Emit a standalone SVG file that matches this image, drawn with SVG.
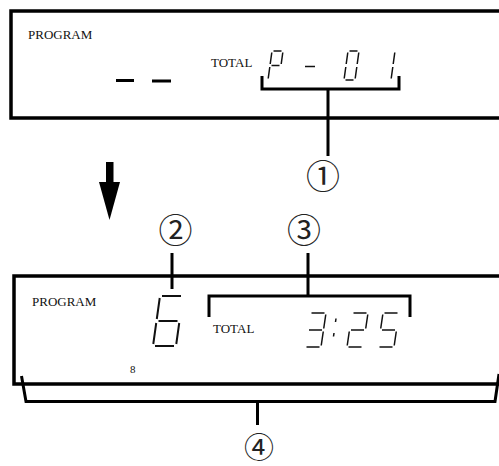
<svg xmlns="http://www.w3.org/2000/svg" width="499" height="466" viewBox="0 0 499 466">
<style>
.box{fill:#fff;stroke:#000;stroke-width:3.5}
.lbl{font-family:"Liberation Serif",serif;font-size:13px;fill:#111}
.seg{stroke:#111;stroke-width:1.5;stroke-linecap:butt;fill:none}
.seg6{stroke:#111;stroke-width:2;fill:none}
.br{stroke:#000;stroke-width:3;fill:none}
.cn{font-family:"Noto Sans CJK JP","Noto Sans",sans-serif;font-size:34px;fill:#222}
</style>
<rect width="499" height="466" fill="#fff"/>
<g id="display-top">
<rect class="box" x="11" y="11" width="500" height="107"/>
<text class="lbl" x="28" y="39">PROGRAM</text>
<text class="lbl" x="211" y="67">TOTAL</text>
<path d="M116,80.5 H134 M152,81 H171" stroke="#000" stroke-width="3"/>
<path class="seg" d="M273.5,51 H281.5 M271.79,52.5 L270.21,64 M282.79,52.5 L281.21,64 M271.5,65.5 H279.5 M269.79,67 L268.21,78.5"/>
<path class="seg" d="M305,66.5 H315"/>
<path class="seg" d="M349.5,51 H357.5 M347.79,52.5 L346.21,64 M358.79,52.5 L357.21,64 M345.79,67 L344.21,78.5 M356.79,67 L355.21,78.5 M345.5,80 H353.5"/>
<path class="seg" d="M394.79,52.5 L393.21,64 M392.79,67 L391.21,78.5"/>
</g>
<g id="arrow">
<rect x="106" y="162" width="7.5" height="21" fill="#000"/>
<polygon points="99,182 120,182 109.5,220" fill="#000"/>
</g>
<g id="display-bottom">
<rect class="box" x="14" y="276" width="500" height="108"/>
<text class="lbl" x="32" y="306">PROGRAM</text>
<text class="lbl" x="213" y="333">TOTAL</text>
<text class="lbl" x="130" y="373" style="font-size:11px">8</text>
<path class="seg6" d="M162,296 H181 M159.72,298 L156.78,319 M158.5,321 H177.5 M156.22,323 L153.28,344 M179.22,323 L176.28,344 M155,346 H174"/>
<path class="seg" d="M311.5,313 H324.5 M325.78,314.5 L323.72,328.5 M309,330 H322 M323.28,331.5 L321.22,345.5 M306.5,347 H319.5"/>
<path class="seg" d="M336,318.5 L335.5,322 M334,333 L333.5,336.5"/>
<path class="seg" d="M353.5,313 H366.5 M367.78,314.5 L365.72,328.5 M351,330 H364 M349.28,331.5 L347.22,345.5 M348.5,347 H361.5"/>
<path class="seg" d="M384.5,313 H397.5 M382.78,314.5 L380.72,328.5 M382,330 H395 M396.28,331.5 L394.22,345.5 M379.5,347 H392.5"/>
</g>
<g id="connectors">
<path class="br" d="M262,76 V89 H399 V76 M328,89 V156"/>
<path class="br" d="M172,253 V289"/>
<path class="br" d="M209,317 V296 H410 V317 M308,253 V296"/>
<path class="br" d="M21.5,376 L26,401.5 H495 L499,374 M257.5,401.5 V425"/>
</g>
<g id="callout-1"><text class="cn" x="323" y="174" text-anchor="middle" dominant-baseline="central">①</text></g>
<g id="callout-2"><text class="cn" x="175.5" y="228.5" text-anchor="middle" dominant-baseline="central">②</text></g>
<g id="callout-3"><text class="cn" x="304" y="228.5" text-anchor="middle" dominant-baseline="central">③</text></g>
<g id="callout-4"><text class="cn" x="259" y="445" text-anchor="middle" dominant-baseline="central" style="font-size:30px">④</text></g>
</svg>
